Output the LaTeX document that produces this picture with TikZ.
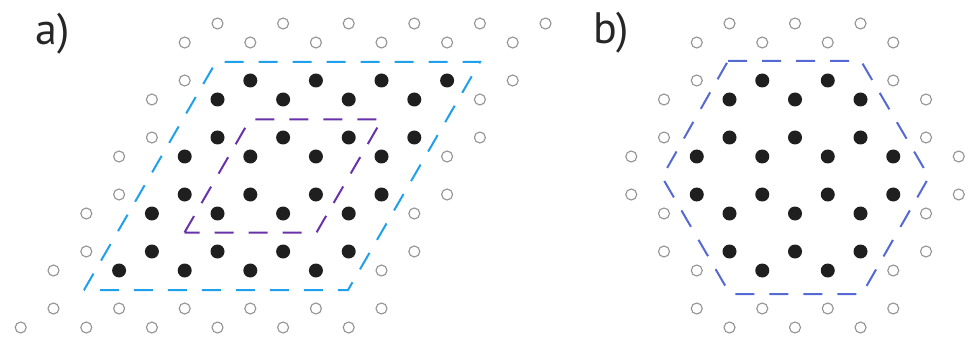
\documentclass[tikz,border=0pt]{standalone}
\usepackage{fontspec}
\setmainfont{PT Sans}
\definecolor{cellblue}{RGB}{30,160,235}
\definecolor{cellpurple}{RGB}{105,50,170}
\definecolor{hexblue}{RGB}{85,105,210}
\begin{document}
\begin{tikzpicture}[x=1pt, y=-1pt,
    site/.style ={draw=gray!85, line width=1.1pt},
    dot/.style  ={fill=black!88},
    cell/.style ={line width=2pt, dash pattern=on 19pt off 15pt},
    lbl/.style  ={anchor=base west, inner sep=0pt, text=black!85, font=\fontsize{44}{44}\selectfont},
  ]
  \useasboundingbox (0,0) rectangle (979,339);
  % a) rhombic cells
  \node[lbl] (la) at (35,45) {a)};
  \foreach \y/\x/\f in {23.5/217.5/0, 42.5/184.7/0, 80.5/184.7/1, 99.5/151.9/1, 137.5/151.9/1, 156.5/119.1/1,
                        194.5/119.1/1, 213.5/86.3/1, 251.5/86.3/1, 270.5/53.5/1, 308.5/53.5/0, 327.5/20.7/0}{
    \foreach \k in {0,...,5}{
      \pgfmathtruncatemacro\full{\f*(\k>0)*(\k<5)}
      \ifnum\full=1
        \fill[dot] ({\x+65.6*\k},\y) circle[radius=7pt];
      \else
        \draw[site] ({\x+65.6*\k},\y) circle[radius=5.5pt];
      \fi
    }
  }
  \coordinate (bl) at (84,290);   \coordinate (tl) at (216,62);
  \coordinate (tr) at (480,62);   \coordinate (br) at (348,290);
  \draw[cell, cellblue] (bl) -- (tl) -- (tr) -- (br) -- cycle;
  \coordinate (ibl) at (184.5,232.5); \coordinate (itl) at (250,119.5);
  \coordinate (itr) at (382,119.5);   \coordinate (ibr) at (316.5,232.5);
  \draw[cell, cellpurple] (ibl) -- (itl) -- (itr) -- (ibr) -- cycle;
  % b) hexagonal cell
  \node[lbl] (lb) at (593,44) {b)};
  \foreach \y/\n/\f in {23.5/3/0, 42.5/4/0, 80.5/4/1, 99.5/5/1, 137.5/5/1, 156.5/6/1,
                        194.5/6/1, 213.5/5/1, 251.5/5/1, 270.5/4/1, 308.5/4/0, 327.5/3/0}{
    \foreach \k in {1,...,\n}{
      \pgfmathtruncatemacro\full{\f*(\k>1)*(\k<\n)}
      \ifnum\full=1
        \fill[dot] ({795+(\k-(\n+1)/2)*65.5},\y) circle[radius=7pt];
      \else
        \draw[site] ({795+(\k-(\n+1)/2)*65.5},\y) circle[radius=5.5pt];
      \fi
    }
  }
  \coordinate (h1) at (728,61);  \coordinate (h2) at (861,61);
  \coordinate (h3) at (929,177); \coordinate (h4) at (862,294);
  \coordinate (h5) at (730,294); \coordinate (h6) at (662,177);
  \draw[cell, hexblue] (h1) -- (h2) -- (h3) -- (h4) -- (h5) -- (h6) -- cycle;
\end{tikzpicture}
\end{document}
